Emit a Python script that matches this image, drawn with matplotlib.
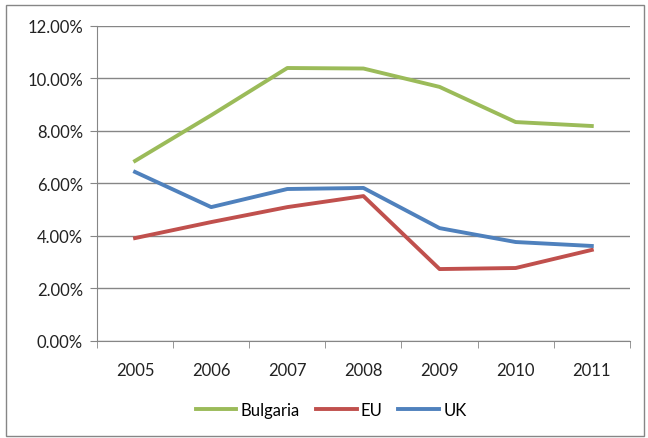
import numpy as np
import matplotlib.pyplot as plt
from matplotlib.patches import Rectangle
from matplotlib.ticker import FuncFormatter, FixedLocator

years = ["2005", "2006", "2007", "2008", "2009", "2010", "2011"]
bulgaria = [6.86, 8.6, 10.4, 10.38, 9.68, 8.34, 8.19]
eu = [3.92, 4.53, 5.1, 5.52, 2.74, 2.78, 3.47]
uk = [6.44, 5.1, 5.79, 5.83, 4.3, 3.77, 3.62]

plt.rcParams['font.family'] = ['Lato', 'DejaVu Sans']

fig = plt.figure(figsize=(6.48, 4.39), dpi=100)
ax = fig.add_axes([0.1497, 0.221, 0.8223, 0.7175])

x = np.arange(len(years))
ax.plot(x, bulgaria, color="#9BBB59", lw=2.8, label="Bulgaria", solid_joinstyle="round")
ax.plot(x, eu, color="#C0504D", lw=2.8, label="EU", solid_joinstyle="round")
ax.plot(x, uk, color="#4F81BD", lw=2.8, label="UK", solid_joinstyle="round")

ax.set_ylim(0, 12)
ax.set_yticks(np.arange(0, 13, 2))
ax.yaxis.set_major_formatter(FuncFormatter(lambda v, p: f"{v:.2f}%"))
ax.set_xlim(-0.5, len(years) - 0.5)
ax.set_xticks(x)
ax.set_xticklabels(years)
ax.xaxis.set_minor_locator(FixedLocator(np.arange(-0.5, len(years), 1)))
ax.tick_params(axis="x", which="major", length=0, pad=15, labelsize=12, colors="#222222")
ax.tick_params(axis="x", which="minor", length=5, color="#868686")
ax.tick_params(axis="y", length=5, color="#868686", pad=5, labelsize=12, labelcolor="#222222")

ax.grid(axis="y", color="#868686", lw=1)
ax.set_axisbelow(True)
for s in ["top", "right"]:
    ax.spines[s].set_visible(False)
for s in ["left", "bottom"]:
    ax.spines[s].set_color("#868686")

fig.legend(loc="center", bbox_to_anchor=(0.511, 0.064), ncol=3, frameon=False,
           fontsize=12, handlelength=2.45, handletextpad=0.25, columnspacing=0.95)

fig.patches.append(Rectangle((0.009, 0.005), 0.985, 0.982, transform=fig.transFigure,
                             fill=False, edgecolor="#868686", lw=1))

fig.savefig("out.png", dpi=100)
